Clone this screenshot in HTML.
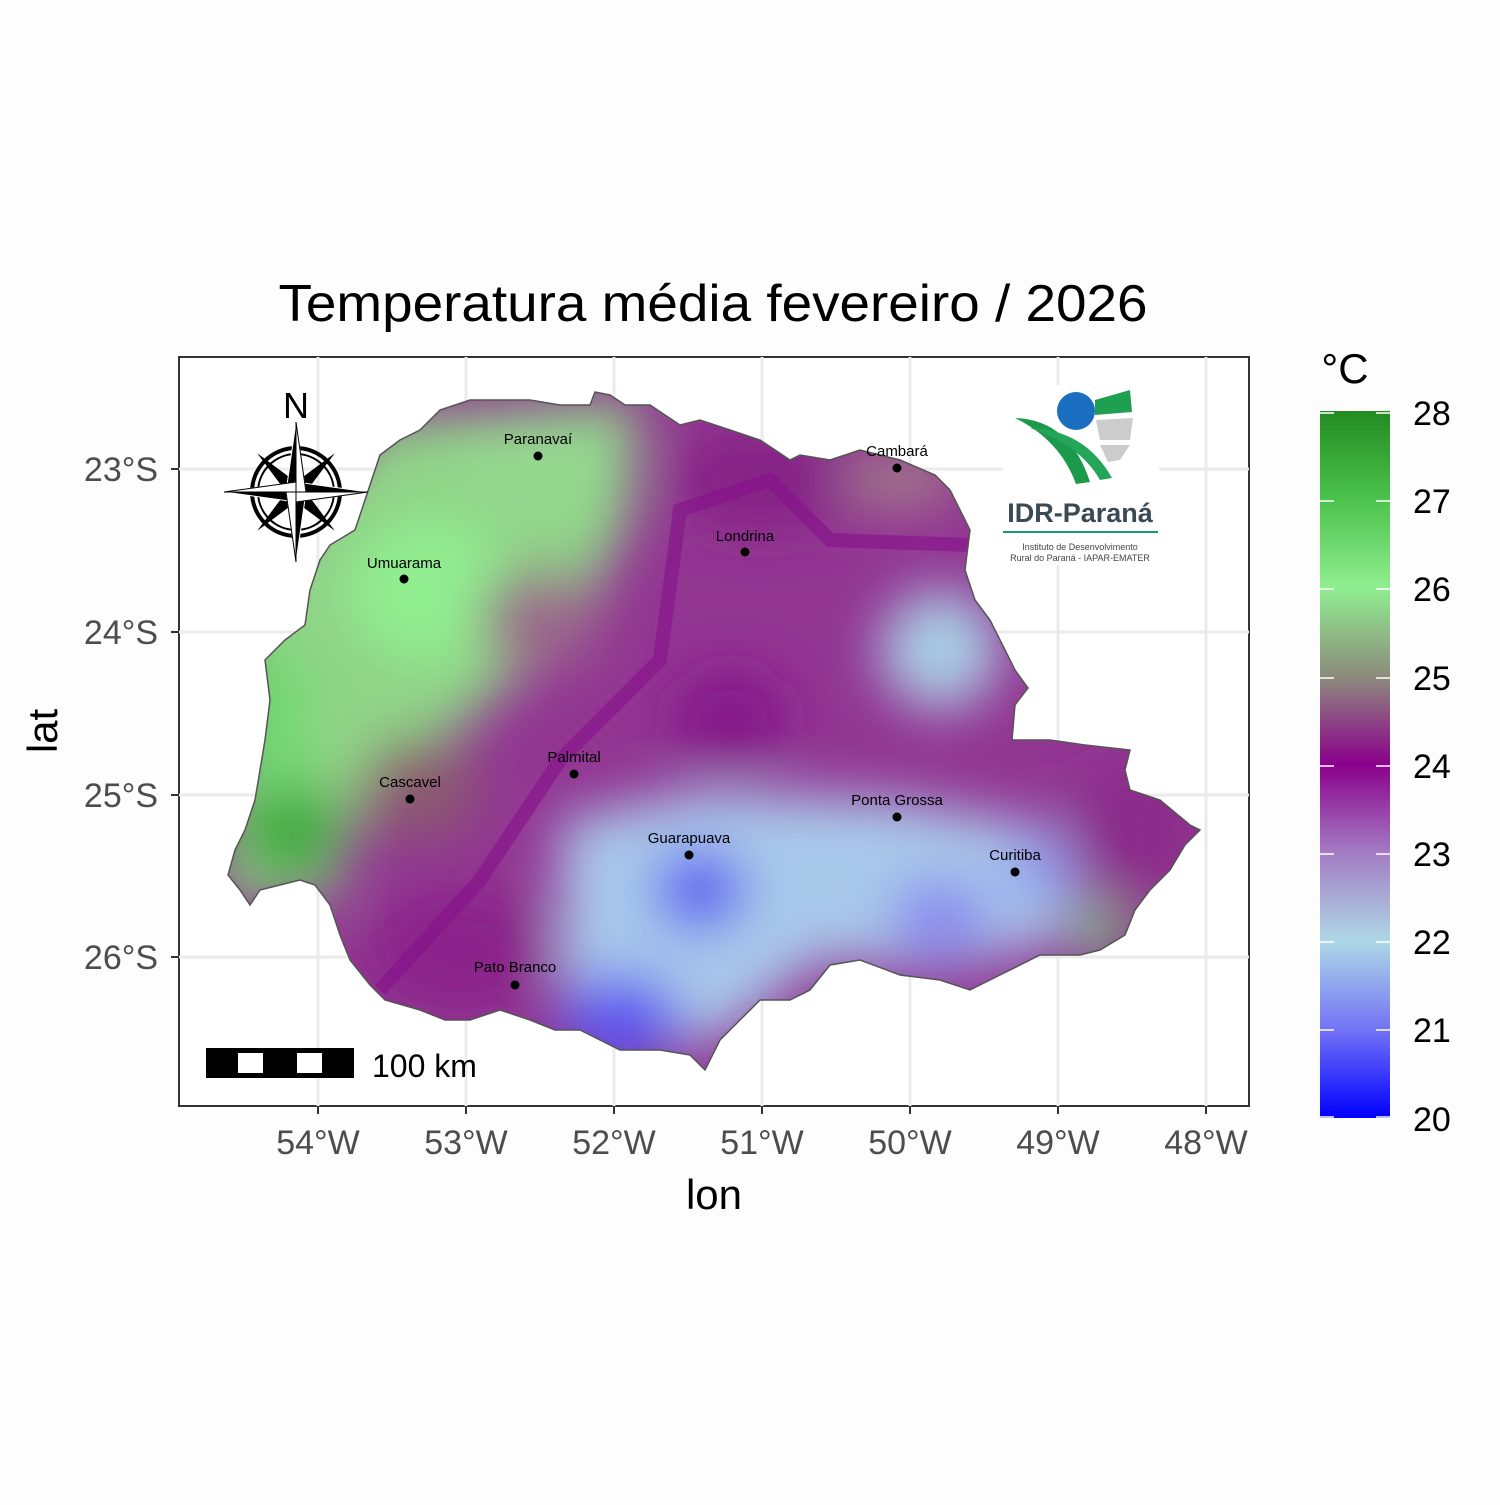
<!DOCTYPE html>
<html><head><meta charset="utf-8"><style>
body{margin:0;background:#fdfdfd;}
svg text{font-family:"Liberation Sans",Arial,sans-serif;}
</style></head><body>
<svg width="1500" height="1500" viewBox="0 0 1500 1500" xmlns="http://www.w3.org/2000/svg">
<defs>
<clipPath id="pr"><path id="prp" d="M595,392 L610,395 L625,405 L650,405 L680,425 L700,420 L730,430 L760,440 L790,460 L800,455 L830,460 L860,450 L900,460 L935,475 L950,490 L960,510 L970,530 L965,570 L975,600 L990,620 L1005,650 L1015,670 L1028,688 L1015,705 L1012,740 L1050,740 L1085,745 L1130,750 L1125,770 L1130,790 L1160,800 L1190,825 L1200,830 L1185,845 L1170,870 L1150,890 L1135,910 L1125,935 L1100,950 L1080,955 L1060,955 L1040,955 L1000,975 L970,990 L940,980 L900,975 L860,960 L830,965 L810,990 L790,1000 L760,1000 L740,1020 L720,1040 L705,1070 L690,1055 L660,1050 L620,1050 L600,1040 L580,1030 L555,1030 L530,1020 L500,1010 L470,1020 L445,1020 L420,1010 L385,1000 L370,985 L350,960 L340,935 L330,905 L315,885 L300,880 L280,885 L260,890 L250,905 L240,890 L228,875 L235,850 L245,830 L255,800 L260,770 L265,740 L270,700 L265,660 L285,640 L305,625 L310,590 L320,560 L330,545 L355,530 L365,500 L375,470 L380,455 L400,440 L420,430 L440,410 L470,400 L530,400 L560,405 L590,405 Z"/></clipPath>
<filter id="bl" x="-20%" y="-20%" width="140%" height="140%"><feGaussianBlur stdDeviation="26"/></filter>
<linearGradient id="cb" x1="0" y1="0" x2="0" y2="1">
<stop offset="0" stop-color="#228b22"/><stop offset="0.125" stop-color="#4cc24c"/><stop offset="0.25" stop-color="#90ee90"/><stop offset="0.375" stop-color="#8c8c7c"/><stop offset="0.5" stop-color="#8b008b"/><stop offset="0.625" stop-color="#a47cc4"/><stop offset="0.75" stop-color="#add8e6"/><stop offset="0.875" stop-color="#7373f5"/><stop offset="1" stop-color="#0000ff"/>
</linearGradient>
</defs>
<rect width="1500" height="1500" fill="#fdfdfd"/>
<text x="713" y="321" font-size="52" text-anchor="middle" textLength="869" lengthAdjust="spacingAndGlyphs">Temperatura média fevereiro / 2026</text>
<rect x="179" y="357" width="1070" height="749" fill="#fff" stroke="#333" stroke-width="2"/>
<g stroke="#ebebeb" stroke-width="3">
<line x1="318" y1="357" x2="318" y2="1106"/><line x1="466" y1="357" x2="466" y2="1106"/><line x1="614" y1="357" x2="614" y2="1106"/><line x1="762" y1="357" x2="762" y2="1106"/><line x1="910" y1="357" x2="910" y2="1106"/><line x1="1058" y1="357" x2="1058" y2="1106"/><line x1="1206" y1="357" x2="1206" y2="1106"/>
<line x1="179" y1="469" x2="1249" y2="469"/><line x1="179" y1="632" x2="1249" y2="632"/><line x1="179" y1="795" x2="1249" y2="795"/><line x1="179" y1="957" x2="1249" y2="957"/>
</g>
<g clip-path="url(#pr)">
<rect x="200" y="380" width="1020" height="700" fill="#923692"/>
<g filter="url(#bl)">
<path d="M380,420 L640,400 L630,520 L580,620 L470,720 L370,780 L330,900 L220,900 L230,600 Z" fill="#90d488"/>
<ellipse cx="430" cy="590" rx="80" ry="70" fill="#90ee90"/>
<ellipse cx="540" cy="470" rx="80" ry="50" fill="#94d890"/>
<ellipse cx="290" cy="830" rx="50" ry="50" fill="#3aa83a"/>
<ellipse cx="270" cy="720" rx="40" ry="80" fill="#70d870"/>
<ellipse cx="420" cy="790" rx="60" ry="50" fill="#8a5a70"/>
<ellipse cx="540" cy="620" rx="60" ry="50" fill="#9a6a8a"/>
<ellipse cx="760" cy="480" rx="90" ry="50" fill="#862086"/>
<ellipse cx="900" cy="480" rx="60" ry="30" fill="#a07a8a"/>
<ellipse cx="940" cy="650" rx="60" ry="60" fill="#a8cce4"/>
<ellipse cx="730" cy="720" rx="60" ry="50" fill="#85188a"/>
<path d="M560,820 L700,790 L900,800 L1060,830 L1080,880 L1060,940 L950,970 L820,960 L720,1040 L600,1050 L560,990 Z" fill="#a8c8ea"/>
<ellipse cx="700" cy="890" rx="45" ry="40" fill="#5a5af0"/>
<ellipse cx="620" cy="1020" rx="60" ry="45" fill="#5e56f0"/>
<ellipse cx="940" cy="920" rx="50" ry="40" fill="#8a88ee"/>
<ellipse cx="1040" cy="870" rx="30" ry="30" fill="#8a90f0"/>
<ellipse cx="1130" cy="830" rx="60" ry="60" fill="#8a2a8a"/>
<ellipse cx="1100" cy="930" rx="30" ry="25" fill="#7ad07a"/>
<ellipse cx="460" cy="950" rx="90" ry="60" fill="#8a208a"/>
</g>
<path d="M380,990 L480,880 L560,760 L660,660 L680,510 L770,480 L830,540 L970,545" fill="none" stroke="#85108a" stroke-width="14" opacity="0.6"/>
</g>
<use href="#prp" fill="none" stroke="#555" stroke-width="1.5"/>
<g font-size="15" text-anchor="middle" fill="#000">
<circle cx="538" cy="456" r="4.5"/><text x="538" y="444">Paranavaí</text>
<circle cx="897" cy="468" r="4.5"/><text x="897" y="456">Cambará</text>
<circle cx="404" cy="579" r="4.5"/><text x="404" y="568">Umuarama</text>
<circle cx="745" cy="552" r="4.5"/><text x="745" y="541">Londrina</text>
<circle cx="574" cy="774" r="4.5"/><text x="574" y="762">Palmital</text>
<circle cx="410" cy="799" r="4.5"/><text x="410" y="787">Cascavel</text>
<circle cx="897" cy="817" r="4.5"/><text x="897" y="805">Ponta Grossa</text>
<circle cx="689" cy="855" r="4.5"/><text x="689" y="843">Guarapuava</text>
<circle cx="1015" cy="872" r="4.5"/><text x="1015" y="860">Curitiba</text>
<circle cx="515" cy="985" r="4.5"/><text x="515" y="972">Pato Branco</text>
</g>
<g transform="translate(296,492)">
<text x="0" y="-74" font-size="36" text-anchor="middle">N</text>
<circle r="44" fill="none" stroke="#000" stroke-width="4"/>
<circle r="38" fill="none" stroke="#000" stroke-width="2"/>
<g transform="rotate(45)"><path d="M0,-55 L8,0 L0,55 L-8,0 Z M-55,0 L0,8 L55,0 L0,-8 Z" fill="#000"/></g>
<path d="M0,-70 L10,0 L0,70 L-10,0 Z M-72,0 L0,10 L72,0 L0,-10 Z" fill="#000" stroke="#fff" stroke-width="1"/>
<path d="M0,-70 L10,0 L0,0 Z M72,0 L0,10 L0,0 Z M0,70 L-10,0 L0,0 Z M-72,0 L0,-10 L0,0Z" fill="#fff" stroke="#000" stroke-width="1"/>
</g>
<rect x="206" y="1048" width="148" height="30" fill="#000"/>
<rect x="238" y="1053" width="25" height="20" fill="#fff"/><rect x="297" y="1053" width="25" height="20" fill="#fff"/>
<text x="372" y="1077" font-size="32">100 km</text>
<rect x="1003" y="385" width="156" height="180" fill="#fff"/>
<circle cx="1076" cy="411" r="19" fill="#1a6fc0"/>
<path d="M1015,418 Q1070,420 1090,482 L1076,484 Q1060,440 1015,418Z" fill="#1a9a4a"/>
<path d="M1030,428 Q1085,430 1112,478 L1100,480 Q1080,445 1030,428Z" fill="#23a55a"/>
<path d="M1095,400 L1130,390 L1132,412 L1095,415Z" fill="#1fa050"/>
<path d="M1096,420 L1133,418 L1130,440 L1100,440Z" fill="#ccc"/>
<path d="M1100,445 L1130,445 L1120,460 L1108,462Z" fill="#ccc"/>
<text x="1080" y="522" font-size="27" font-weight="bold" text-anchor="middle" fill="#3a4a55">IDR-Paraná</text>
<line x1="1003" y1="532" x2="1158" y2="532" stroke="#1a9a6a" stroke-width="2"/>
<text x="1080" y="550" font-size="9" text-anchor="middle" fill="#444">Instituto de Desenvolvimento</text>
<text x="1080" y="561" font-size="9" text-anchor="middle" fill="#444">Rural do Paraná - IAPAR-EMATER</text>
<g stroke="#333" stroke-width="2">
<line x1="318" y1="1106" x2="318" y2="1114"/><line x1="466" y1="1106" x2="466" y2="1114"/><line x1="614" y1="1106" x2="614" y2="1114"/><line x1="762" y1="1106" x2="762" y2="1114"/><line x1="910" y1="1106" x2="910" y2="1114"/><line x1="1058" y1="1106" x2="1058" y2="1114"/><line x1="1206" y1="1106" x2="1206" y2="1114"/>
<line x1="171" y1="469" x2="179" y2="469"/><line x1="171" y1="632" x2="179" y2="632"/><line x1="171" y1="795" x2="179" y2="795"/><line x1="171" y1="957" x2="179" y2="957"/>
</g>
<g font-size="34" fill="#4d4d4d" text-anchor="middle">
<text x="318" y="1154">54°W</text><text x="466" y="1154">53°W</text><text x="614" y="1154">52°W</text><text x="762" y="1154">51°W</text><text x="910" y="1154">50°W</text><text x="1058" y="1154">49°W</text><text x="1206" y="1154">48°W</text>
</g>
<g font-size="34" fill="#4d4d4d" text-anchor="end">
<text x="158" y="481">23°S</text><text x="158" y="644">24°S</text><text x="158" y="807">25°S</text><text x="158" y="969">26°S</text>
</g>
<text x="714" y="1209" font-size="42" text-anchor="middle">lon</text>
<text transform="translate(57,731) rotate(-90)" font-size="42" text-anchor="middle">lat</text>
<text x="1345" y="383" font-size="42" text-anchor="middle">°C</text>
<rect x="1320" y="411" width="70" height="707" fill="url(#cb)"/>
<g stroke="#fff" stroke-width="1.5">
<line x1="1320" y1="413" x2="1334" y2="413"/><line x1="1376" y1="413" x2="1390" y2="413"/>
<line x1="1320" y1="501" x2="1334" y2="501"/><line x1="1376" y1="501" x2="1390" y2="501"/>
<line x1="1320" y1="589" x2="1334" y2="589"/><line x1="1376" y1="589" x2="1390" y2="589"/>
<line x1="1320" y1="678" x2="1334" y2="678"/><line x1="1376" y1="678" x2="1390" y2="678"/>
<line x1="1320" y1="766" x2="1334" y2="766"/><line x1="1376" y1="766" x2="1390" y2="766"/>
<line x1="1320" y1="854" x2="1334" y2="854"/><line x1="1376" y1="854" x2="1390" y2="854"/>
<line x1="1320" y1="942" x2="1334" y2="942"/><line x1="1376" y1="942" x2="1390" y2="942"/>
<line x1="1320" y1="1030" x2="1334" y2="1030"/><line x1="1376" y1="1030" x2="1390" y2="1030"/>
<line x1="1320" y1="1117" x2="1334" y2="1117"/><line x1="1376" y1="1117" x2="1390" y2="1117"/>
</g>
<g font-size="34" fill="#000">
<text x="1413" y="425">28</text><text x="1413" y="513">27</text><text x="1413" y="601">26</text><text x="1413" y="690">25</text><text x="1413" y="778">24</text><text x="1413" y="866">23</text><text x="1413" y="954">22</text><text x="1413" y="1042">21</text><text x="1413" y="1131">20</text>
</g>
</svg>
</body></html>
